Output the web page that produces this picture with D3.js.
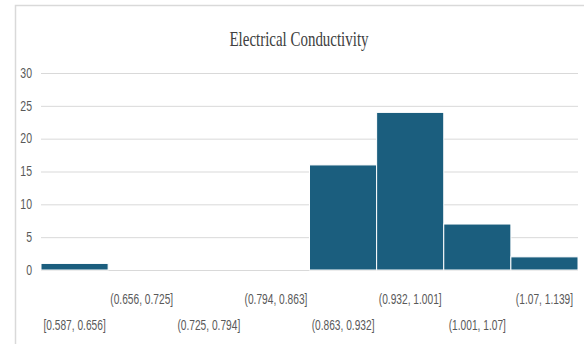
<!DOCTYPE html>
<html>
<head>
<meta charset="utf-8">
<title>Electrical Conductivity</title>
<script src="https://cdn.jsdelivr.net/npm/d3@7/dist/d3.min.js"></script>
<style>
  body { margin: 0; background: #fff; }
  svg { display: block; }
</style>
</head>
<body>
<div id="chart"></div>
<script>
    // histogram bins and counts
    var bins = ["[0.587, 0.656]", "(0.656, 0.725]", "(0.725, 0.794]", "(0.794, 0.863]",
                "(0.863, 0.932]", "(0.932, 1.001]", "(1.001, 1.07]", "(1.07, 1.139]"];
    var counts = [1, 0, 0, 0, 16, 24, 7, 2];
    var yTicks = [0, 5, 10, 15, 20, 25, 30];

    var width = 584, height = 344;
    var margin = { top: 73, right: 6, bottom: 74, left: 41 };

    var svg = d3.select("#chart").append("svg")
        .attr("width", width)
        .attr("height", height);

    // chart area border (left and top edges visible)
    svg.append("path")
        .attr("d", "M15.5," + height + "V5.5H" + width)
        .attr("fill", "none")
        .attr("stroke", "#d9d9d9")
        .attr("stroke-width", 1.5);

    // narrow text: squeeze horizontally around its anchor
    function narrow(sel, x, y, k) {
        return sel.attr("transform", "translate(" + x + "," + y + ") scale(" + k + ",1)");
    }

    narrow(svg.append("text"), 299, 46, 0.68)
        .attr("text-anchor", "middle")
        .attr("font-family", "Liberation Serif, serif")
        .attr("font-size", "22px")
        .attr("fill", "#404040")
        .text("Electrical Conductivity");

    var x = d3.scaleBand()
        .domain(bins)
        .range([margin.left, width - margin.right])
        .padding(0);

    var y = d3.scaleLinear()
        .domain([0, 30])
        .range([height - margin.bottom, margin.top]);

    // gridlines
    svg.append("g")
        .attr("transform", "translate(" + margin.left + ",0)")
        .call(d3.axisLeft(y).tickValues(yTicks).tickSize(-(width - margin.right - margin.left)).tickFormat(""))
        .call(function(g) { g.select(".domain").remove(); })
        .selectAll("line")
        .attr("stroke", "#d9d9d9");

    // bars
    svg.append("g").selectAll("rect")
        .data(counts)
        .enter().append("rect")
        .attr("x", function(d, i) { return x(bins[i]); })
        .attr("y", function(d) { return y(d); })
        .attr("width", x.bandwidth())
        .attr("height", function(d) { return y(0) - y(d); })
        .attr("fill", "#1b5e7e")
        .attr("stroke", "#fff")
        .attr("stroke-width", 1);

    // y labels
    svg.append("g").selectAll("text")
        .data(yTicks)
        .enter().append("text")
        .each(function(d) { narrow(d3.select(this), margin.left - 9, y(d), 0.7); })
        .attr("dy", "0.32em")
        .attr("text-anchor", "end")
        .attr("font-family", "Liberation Sans, Arial, sans-serif")
        .attr("font-size", "15px")
        .attr("fill", "#595959")
        .text(function(d) { return d; });

    // category labels, staggered on two rows
    svg.append("g").selectAll("text")
        .data(bins)
        .enter().append("text")
        .each(function(d, i) {
            narrow(d3.select(this), x(d) + x.bandwidth() / 2, i % 2 === 0 ? 330 : 304, 0.68);
        })
        .attr("text-anchor", "middle")
        .attr("font-family", "Liberation Sans, Arial, sans-serif")
        .attr("font-size", "15px")
        .attr("fill", "#595959")
        .text(function(d) { return d; });
</script>
</body>
</html>
